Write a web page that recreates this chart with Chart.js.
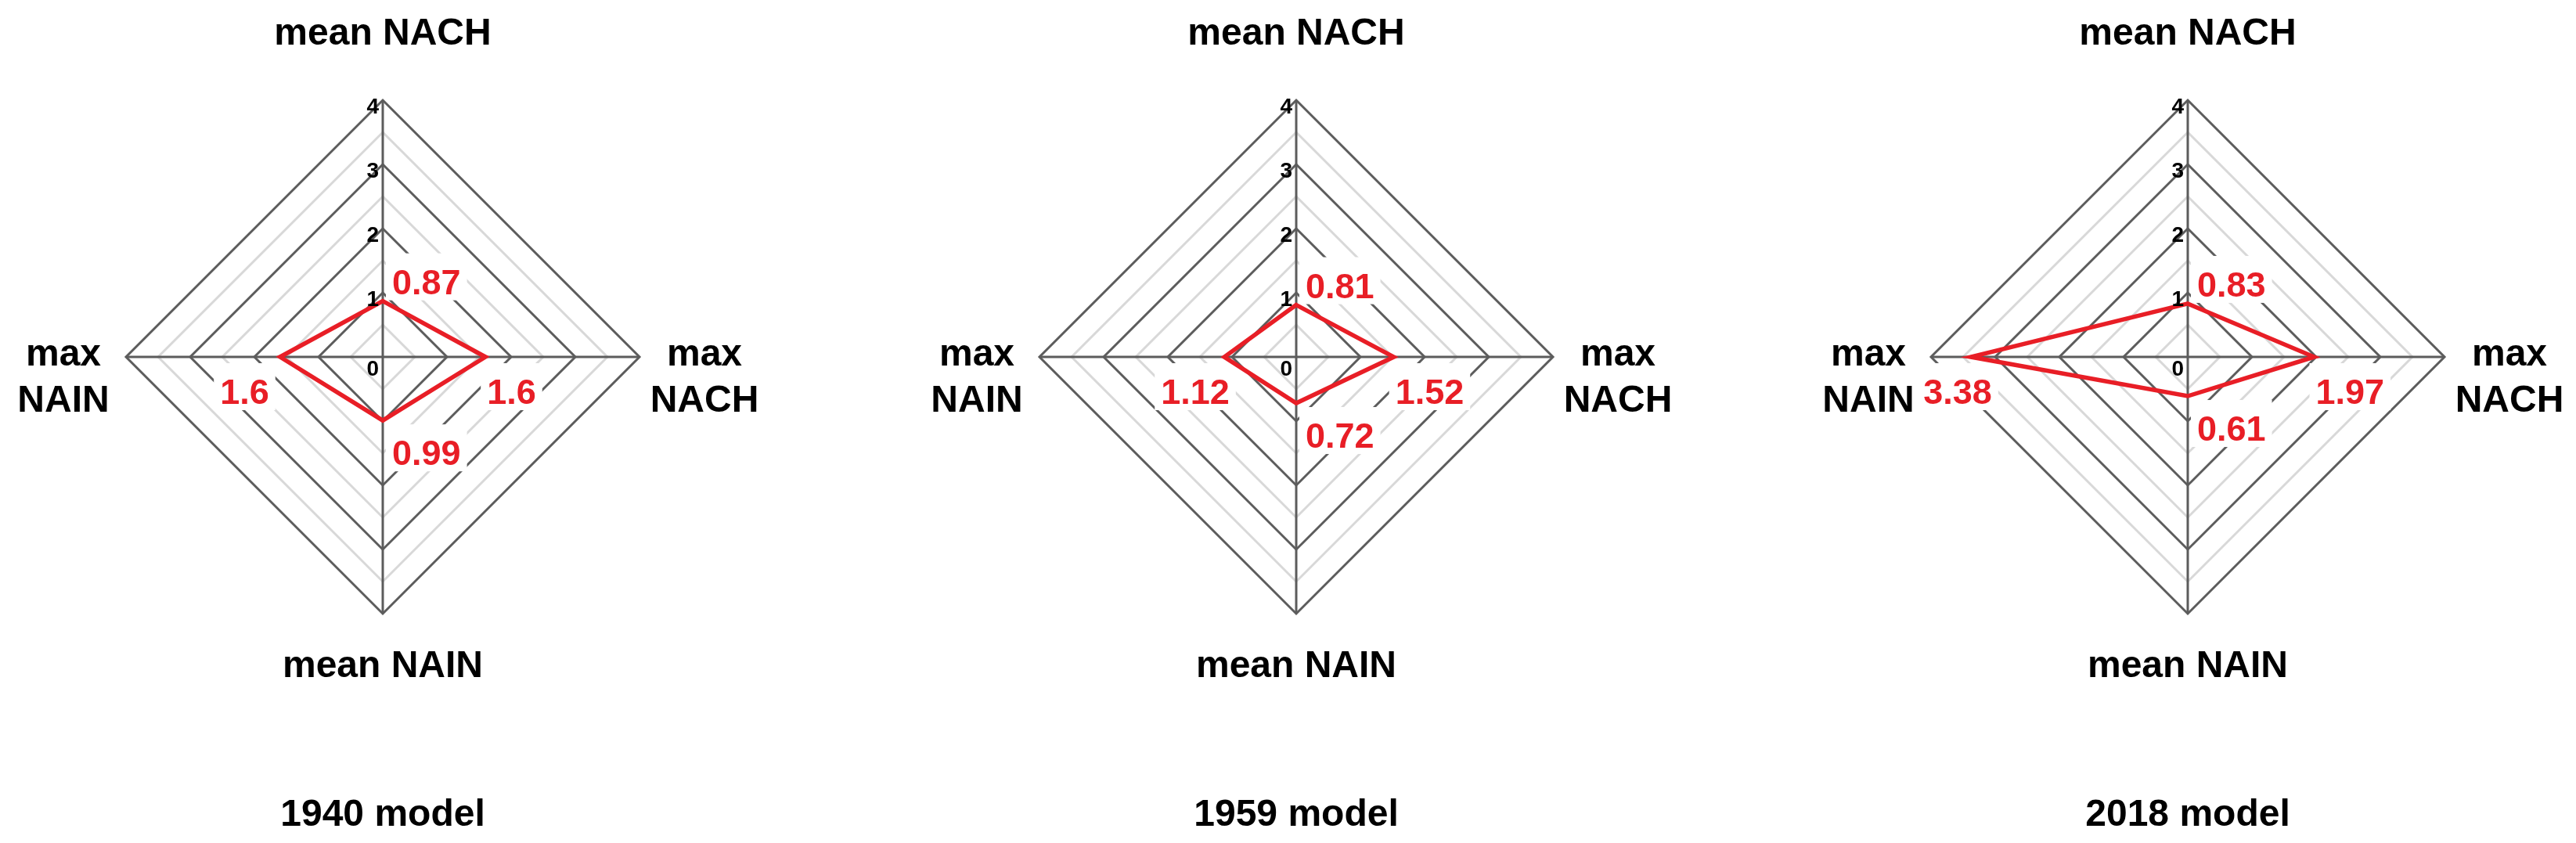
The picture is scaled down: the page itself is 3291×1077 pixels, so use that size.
<!DOCTYPE html>
<html>
<head>
<meta charset="utf-8">
<title>NACH / NAIN radar charts</title>
<script src="https://cdn.jsdelivr.net/npm/chart.js@4.4.1/dist/chart.umd.min.js"></script>
<style>
  html, body { margin: 0; padding: 0; background: #fff; }
  #wrap { position: relative; width: 3291px; height: 1077px; overflow: hidden; }
  #wrap canvas { position: absolute; top: 0; }
</style>
</head>
<body>
<div id="wrap">
  <canvas id="radar-0" width="960" height="1077" style="left:9px"></canvas>
  <canvas id="radar-1" width="960" height="1077" style="left:1176px"></canvas>
  <canvas id="radar-2" width="960" height="1077" style="left:2315px"></canvas>
</div>
<script>
// axes, clockwise from the top
var axisLabels = [['mean NACH'], ['max', 'NACH'], ['mean NAIN'], ['max', 'NAIN']];
var tickValues = [0, 1, 2, 3, 4];

// one series per model
var modelTitles = ['1940 model', '1959 model', '2018 model'];
var model1940 = [0.87, 1.6, 0.99, 1.6];
var model1959 = [0.81, 1.52, 0.72, 1.12];
var model2018 = [0.83, 1.97, 0.61, 3.38];
var modelValues = [model1940, model1959, model2018];

var RED = 'rgb(232, 30, 38)';
var DARK = '#5c5c5c';
var LIGHT = '#d8d8d8';
var FONT = '"Liberation Sans", Arial, sans-serif';

// where each value label sits relative to its point (depends on the axis)
function valueLabelBox(ctx, scale, i, value) {
    var p = scale.getPointPositionForValue(i, value);
    var text = String(value);
    ctx.font = 'bold 45px ' + FONT;
    var w = ctx.measureText(text).width;
    var x, y;
    if (i === 0) { x = scale.xCenter + 12; y = p.y - 9; }
    else if (i === 1) { x = p.x + 2; y = scale.yCenter + 60; }
    else if (i === 2) { x = scale.xCenter + 12; y = p.y + 57; }
    else { x = p.x - 91 + 9 * value; y = scale.yCenter + 60; }
    return { text: text, x: x, y: y, w: w };
}

var radarText = {
    id: 'radarText',
    beforeDatasetsDraw: function(chart) {
        // white boxes behind the value labels hide the grid there
        var ctx = chart.ctx;
        var scale = chart.scales.r;
        var values = chart.data.datasets[0].data;
        ctx.save();
        ctx.fillStyle = '#fff';
        for (var i = 0; i < values.length; i++) {
            var b = valueLabelBox(ctx, scale, i, values[i]);
            ctx.fillRect(b.x - 8, b.y - 52, b.w + 16, 60);
        }
        ctx.restore();
    },
    afterDatasetsDraw: function(chart, args, opts) {
        var ctx = chart.ctx;
        var scale = chart.scales.r;
        var cx = scale.xCenter;
        var cy = scale.yCenter;
        var R = scale.drawingArea;
        ctx.save();

        // tick numbers, left of the vertical axis
        ctx.fillStyle = '#000';
        ctx.font = 'bold 28px ' + FONT;
        ctx.textAlign = 'right';
        ctx.textBaseline = 'middle';
        tickValues.forEach(function(v) {
            var p = scale.getPointPositionForValue(0, v);
            ctx.fillText(String(v), p.x - 5, p.y + (v === 0 ? 16 : 9));
        });

        // axis names
        ctx.font = 'bold 48px ' + FONT;
        ctx.textBaseline = 'alphabetic';
        ctx.textAlign = 'center';
        var top = scale.getPointPosition(0, R);
        ctx.fillText(axisLabels[0].join(' '), top.x, top.y - 71);
        var bottom = scale.getPointPosition(2, R);
        ctx.fillText(axisLabels[2].join(' '), bottom.x, bottom.y + 81);
        var right = scale.getPointPosition(1, R + 83);
        ctx.fillText(axisLabels[1][0], right.x, cy + 11);
        ctx.fillText(axisLabels[1][1], right.x, cy + 70);
        var left = scale.getPointPosition(3, R + 80);
        ctx.fillText(axisLabels[3][0], left.x, cy + 11);
        ctx.fillText(axisLabels[3][1], left.x, cy + 70);

        // value labels
        var values = chart.data.datasets[0].data;
        ctx.fillStyle = RED;
        ctx.textAlign = 'left';
        for (var i = 0; i < values.length; i++) {
            var b = valueLabelBox(ctx, scale, i, values[i]);
            ctx.fillText(b.text, b.x, b.y);
        }

        // model title under the chart
        ctx.fillStyle = '#000';
        ctx.font = 'bold 48px ' + FONT;
        ctx.textAlign = 'center';
        ctx.fillText(opts.title, cx, 1055);
        ctx.restore();
    }
};

// build the three radar charts
for (var m = 0; m < modelValues.length; m++) {
    var ctx = document.getElementById('radar-' + m).getContext('2d');
    new Chart(ctx, {
        type: 'radar',
        data: {
            labels: axisLabels,
            datasets: [{
                data: modelValues[m],
                borderColor: RED,
                borderWidth: 5.5,
                fill: false,
                pointRadius: 0,
                pointHoverRadius: 0,
                tension: 0
            }]
        },
        options: {
            responsive: false,
            animation: false,
            layout: { padding: { left: 152, right: 152, top: 128, bottom: 293 } },
            plugins: {
                legend: { display: false },
                tooltip: { enabled: false },
                radarText: { title: modelTitles[m] }
            },
            scales: {
                r: {
                    min: 0,
                    max: 4,
                    ticks: { stepSize: 0.5, display: false },
                    pointLabels: { display: false },
                    grid: {
                        circular: false,
                        color: function(c) { return c.tick && c.tick.value % 1 === 0 ? DARK : LIGHT; },
                        lineWidth: 3
                    },
                    angleLines: { color: DARK, lineWidth: 3 }
                }
            }
        },
        plugins: [radarText]
    });
}
</script>
</body>
</html>
